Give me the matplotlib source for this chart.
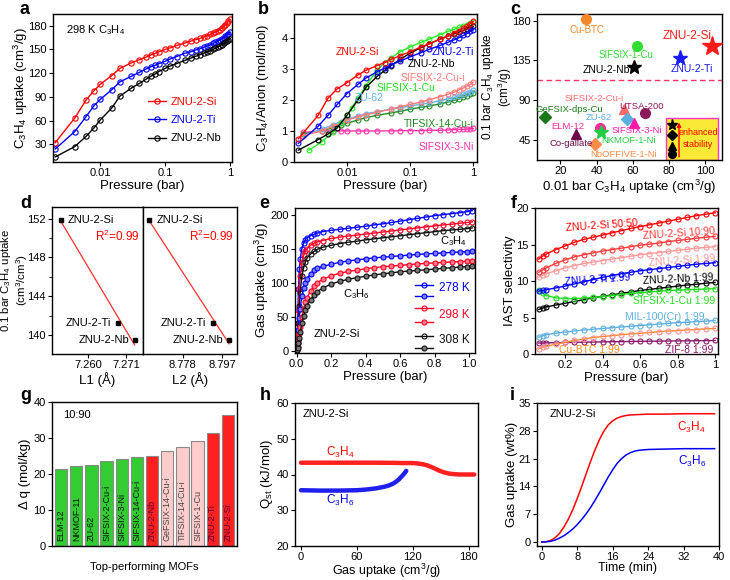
import numpy as np
import matplotlib
matplotlib.use('Agg')
import matplotlib.pyplot as plt
from matplotlib.lines import Line2D
from matplotlib.patches import Rectangle
from matplotlib.ticker import FixedLocator, NullLocator, MultipleLocator

plt.rcParams['font.family'] = ['Liberation Sans', 'DejaVu Sans']
plt.rcParams['mathtext.default'] = 'regular'
plt.rcParams['axes.linewidth'] = 1.0
plt.rcParams['xtick.labelsize'] = 8
plt.rcParams['ytick.labelsize'] = 8
plt.rcParams['axes.labelsize'] = 9.5
plt.rcParams['xtick.major.size'] = 3
plt.rcParams['ytick.major.size'] = 3
plt.rcParams['xtick.major.pad'] = 1.5
plt.rcParams['ytick.major.pad'] = 1.5
plt.rcParams['axes.labelpad'] = 1.0

# ---------------- data: panel a ----------------
a_pressure = [0.002, 0.004, 0.006, 0.008, 0.01, 0.015, 0.02, 0.03, 0.04, 0.05, 0.06, 0.07, 0.08, 0.1,
              0.12, 0.15, 0.2, 0.25, 0.3, 0.35, 0.4, 0.45, 0.5, 0.55, 0.6, 0.65, 0.7, 0.75, 0.8,
              0.85, 0.9, 0.95, 1.0]
a_si = [32, 63, 86, 98, 106, 117, 126, 133, 137, 140, 143, 145, 147, 150, 152, 155, 158, 160.5,
        162.5, 164, 166, 167.5, 169, 170.5, 172, 173.5, 175, 177, 179, 181, 183, 185.5, 188]
a_ti = [24, 46, 65, 79, 87, 99, 109, 116, 121, 125, 128, 130, 132, 135, 138, 141, 145, 147, 149.5,
        151, 153, 154.5, 156, 157.5, 159, 160.5, 162, 163.5, 165, 166.5, 168, 170, 172]
a_nb = [14, 27, 40, 51, 61, 76, 91, 101, 107, 112, 116, 119, 122, 126, 129, 132, 136, 139, 141.5,
        143.5, 145.5, 147, 148.5, 150, 151.5, 153, 154.5, 156, 157.5, 159, 160.5, 162, 163.5]
a_names = ['ZNU-2-Si', 'ZNU-2-Ti', 'ZNU-2-Nb']

# ---------------- data: panel b ----------------
b_pressure = [0.0017, 0.0035, 0.005, 0.007, 0.01, 0.015, 0.02, 0.03, 0.04, 0.05, 0.07, 0.1, 0.15,
              0.2, 0.3, 0.4, 0.5, 0.6, 0.7, 0.8, 0.9, 1.0]
b_si = [0.75, 1.5, 2.05, 2.35, 2.55, 2.8, 2.95, 3.1, 3.2, 3.3, 3.42, 3.55, 3.7, 3.8, 3.95, 4.05,
        4.15, 4.22, 4.3, 4.37, 4.45, 4.52]
b_ti = [0.6, 1.15, 1.5, 1.85, 2.2, 2.5, 2.7, 2.9, 3.02, 3.12, 3.25, 3.38, 3.52, 3.62, 3.75, 3.85,
        3.93, 4.0, 4.07, 4.13, 4.2, 4.25]
b_nb = [0.38, 0.72, 0.9, 1.1, 1.5, 2.0, 2.4, 2.75, 2.95, 3.1, 3.3, 3.5, 3.68, 3.8, 3.95, 4.05,
        4.12, 4.18, 4.23, 4.28, 4.32, 4.36]
b_cu_pressure = [0.0025, 0.004, 0.006, 0.008, 0.01, 0.012, 0.015, 0.02, 0.03, 0.04, 0.05, 0.07,
                 0.1, 0.15, 0.2, 0.3, 0.4, 0.5, 0.6, 0.7, 0.8, 0.9, 1.0]
b_sifsix1cu = [0.38, 0.65, 0.95, 1.25, 1.5, 1.75, 2.05, 2.45, 2.95, 3.2, 3.35, 3.55, 3.7, 3.85,
               3.95, 4.1, 4.2, 4.27, 4.33, 4.38, 4.42, 4.47, 4.5]
b_pressure2 = [0.002, 0.004, 0.006, 0.008, 0.01, 0.015, 0.02, 0.03, 0.05, 0.07, 0.1, 0.15, 0.2,
               0.3, 0.4, 0.5, 0.6, 0.7, 0.8, 0.9, 1.0]
b_sifsix2cui = [0.85, 1.0, 1.15, 1.25, 1.35, 1.45, 1.52, 1.6, 1.7, 1.78, 1.85, 1.93, 2.0, 2.1,
                2.18, 2.25, 2.32, 2.38, 2.44, 2.5, 2.57]
b_zu62 = [0.85, 1.05, 1.2, 1.3, 1.38, 1.48, 1.55, 1.62, 1.7, 1.75, 1.8, 1.86, 1.9, 1.97, 2.03,
          2.08, 2.13, 2.18, 2.22, 2.26, 2.3]
b_tifsix14 = [0.9, 1.0, 1.1, 1.18, 1.25, 1.35, 1.43, 1.5, 1.58, 1.63, 1.7, 1.76, 1.8, 1.87, 1.93,
              1.98, 2.03, 2.08, 2.13, 2.18, 2.23]
b_sifsix3ni = [0.95, 1.0, 1.0, 1.0, 1.0, 1.0, 1.0, 1.0, 1.0, 1.01, 1.01, 1.01, 1.02, 1.02, 1.03,
               1.04, 1.05, 1.05, 1.06, 1.07, 1.08]

# ---------------- data: panel c ----------------
c_names = ['Cu-BTC', 'SIFSIX-1-Cu', 'ZNU-2-Si', 'ZNU-2-Ti', 'ZNU-2-Nb', 'SIFSIX-2-Cu-i',
           'UTSA-200', 'GeFSIX-dps-Cu', 'ZU-62', 'ELM-12', 'SIFSIX-3-Ni', 'NKMOF-1-Ni',
           'Co-gallate', 'NbOFFIVE-1-Ni']
c_x = [34.4, 62.4, 104.1, 86.3, 60.9, 55.4, 66.6, 11.7, 56.9, 41.7, 60.9, 42.5, 28.7, 39.3]
c_y = [181.5, 151.6, 151.6, 138.0, 127.8, 79.8, 74.9, 70.3, 68.8, 58.6, 64.3, 54.1, 51.4, 40.0]
c_markers = ['o', 'o', '*', '*', '*', '^', 'o', 'D', 'D', 'o', '^', '*', '^', 'D']
c_colors = ['#f5872a', '#33dd33', '#ff1a1a', '#1a1aff', '#000000', '#ff6b6b', '#8b1a5a',
            '#1a7a1a', '#5aaee0', '#ff2a9a', '#ff1aaa', '#22cc44', '#6a0a4a', '#ff8c4a']
c_sizes = [7, 7, 15, 11, 10, 7, 7, 6, 6, 7, 7, 10, 7, 6]
c_label_xy = [(34.4, 170), (56.5, 141.5), (90, 163), (92.9, 124.8), (58.7, 124), (38.4, 91.5),
              (65.1, 83.2), (25.1, 79.2), (41.2, 70.3), (24, 60.5), (62.4, 55.2), (57.7, 44.6),
              (26.1, 40.8), (55, 28.7)]
c_label_ha = ['center', 'center', 'center', 'center', 'right', 'center', 'center', 'center',
              'center', 'center', 'center', 'center', 'center', 'center']
c_label_size = [7, 7, 8.5, 7.5, 7.5, 6.8, 6.8, 6.8, 6.8, 6.8, 6.8, 6.8, 6.8, 6.8]
c_threshold = 112.7
c_box_x = [78.4, 107.1]
c_box_top = 69.2
c_key_markers = ['*', 'D', '^', 'o']
c_key_y = [61.6, 50.3, 38.2, 28.7]

# ---------------- data: panel d ----------------
d_names = ['ZNU-2-Si', 'ZNU-2-Ti', 'ZNU-2-Nb']
d_L1 = [7.2522, 7.2686, 7.2734]
d_L2 = [8.7618, 8.7925, 8.8005]
d_uptake = [151.9, 141.2, 139.5]

# ---------------- data: panel e ----------------
e_pressure = [0.002, 0.005, 0.01, 0.015, 0.02, 0.03, 0.04, 0.05, 0.06, 0.08, 0.1, 0.12, 0.15,
              0.2, 0.25, 0.3, 0.35, 0.4, 0.45, 0.5, 0.55, 0.6, 0.65, 0.7, 0.75, 0.8, 0.85, 0.9,
              0.95, 0.99, 1.02]
e_c3h4_278 = [8, 40, 90, 120, 135, 150, 158, 163, 166, 169, 171, 173, 175, 177, 178.5, 180, 181.5,
              183, 185, 186.5, 188.5, 190.5, 192.5, 194.5, 196.5, 198.5, 200, 201.5, 203, 204.5, 206]
e_c3h4_298 = [4, 25, 60, 90, 110, 130, 140, 146, 150, 155, 158, 160, 162, 165, 167, 168.5, 170,
              171.5, 173, 174.5, 176, 177.5, 179, 180.5, 182, 183.5, 185, 186, 187.5, 188.5, 189.5]
e_c3h4_308 = [3, 15, 40, 65, 85, 110, 122, 130, 136, 142, 146, 149, 152, 155, 157.5, 159.5, 161,
              163, 164.5, 166, 167.5, 169, 170.5, 172, 173.5, 175, 176.5, 177.5, 178.5, 179.5, 180.5]
e_c3h6_278 = [2, 12, 30, 48, 62, 80, 92, 100, 106, 113, 118, 121, 124, 127, 130, 132, 133.5, 135,
              136.5, 137.5, 138.5, 139.5, 140.5, 141.5, 142.3, 143, 143.8, 144.5, 145.2, 145.8, 146.3]
e_c3h6_298 = [1, 5, 15, 25, 35, 50, 62, 71, 78, 88, 95, 100, 105, 110, 114, 116.5, 118.5, 120.5,
              122, 123.5, 124.5, 125.5, 126.5, 127.5, 128.3, 129, 129.8, 130.5, 131, 131.5, 132]
e_c3h6_308 = [1, 4, 11, 19, 27, 40, 51, 60, 66, 75, 82, 87, 92, 98, 102, 105, 107.5, 109.5,
              111.5, 113, 114.5, 116, 117, 118, 119, 120, 121, 122, 123, 123.7, 124.4]
e_temps = ['278 K', '298 K', '308 K']

# ---------------- data: panel f ----------------
f_pressure = [0.06, 0.08, 0.1, 0.15, 0.2, 0.25, 0.3, 0.35, 0.4, 0.45, 0.5, 0.55, 0.6, 0.65, 0.7,
              0.75, 0.8, 0.85, 0.9, 0.95, 1.0]
f_si_5050 = [13.0, 13.4, 13.7, 14.3, 14.8, 15.3, 15.7, 16.0, 16.3, 16.6, 16.9, 17.2, 17.45, 17.7,
             17.95, 18.2, 18.45, 18.7, 18.95, 19.15, 19.35]
f_si_1090 = [11.2, 11.5, 11.8, 12.4, 12.9, 13.3, 13.6, 13.85, 14.1, 14.3, 14.5, 14.7, 14.9, 15.05,
             15.2, 15.4, 15.55, 15.7, 15.85, 16.0, 16.1]
f_si_199 = [10.5, 10.8, 11.0, 11.4, 11.8, 12.1, 12.4, 12.6, 12.8, 13.0, 13.2, 13.4, 13.6, 13.75,
            13.9, 14.05, 14.2, 14.35, 14.5, 14.6, 14.7]
f_ti_199 = [8.6, 8.7, 8.8, 9.05, 9.3, 9.6, 9.9, 10.2, 10.5, 10.75, 11.0, 11.2, 11.4, 11.55, 11.7,
            11.85, 12.0, 12.15, 12.3, 12.4, 12.5]
f_nb_199 = [6.1, 6.3, 6.45, 6.7, 6.95, 7.2, 7.45, 7.7, 7.9, 8.1, 8.3, 8.5, 8.7, 8.85, 9.0, 9.15,
            9.3, 9.45, 9.55, 9.7, 9.8]
f_sifsix1cu = [8.8, 8.3, 8.0, 7.7, 7.6, 7.6, 7.65, 7.75, 7.85, 8.0, 8.15, 8.3, 8.4, 8.5, 8.6, 8.7,
               8.75, 8.8, 8.85, 8.9, 8.95]
f_mil100 = [2.3, 2.5, 2.65, 2.85, 3.0, 3.15, 3.3, 3.4, 3.5, 3.6, 3.7, 3.8, 3.9, 4.0, 4.1, 4.2, 4.3,
            4.35, 4.45, 4.5, 4.6]
f_cubtc = [0.7, 0.9, 1.05, 1.35, 1.6, 1.85, 2.05, 2.25, 2.4, 2.5, 2.65, 2.75, 2.85, 2.95, 3.05,
           3.15, 3.2, 3.3, 3.35, 3.45, 3.5]
f_zif8 = [1.5, 1.5, 1.52, 1.55, 1.58, 1.6, 1.62, 1.64, 1.66, 1.68, 1.7, 1.72, 1.73, 1.75, 1.76,
          1.78, 1.79, 1.8, 1.82, 1.83, 1.85]

# ---------------- data: panel g ----------------
g_names = ['ELM-12', 'NKMOF-11', 'ZU-62', 'SIFSIX-2-Cu-i', 'SIFSIX-3-Ni', 'SIFSIX-14-Cu-i',
           'ZNU-2-Nb', 'GeFSIX-14-Cu-i', 'TIFSIX-14-Cu-i', 'SIFSIX-1-Cu', 'ZNU-2-Ti', 'ZNU-2-Si']
g_dq = [21.3, 22.2, 22.5, 23.5, 24.3, 24.7, 25.1, 26.5, 27.5, 29.2, 31.3, 36.5]
g_group = ['g', 'g', 'g', 'g', 'g', 'g', 'r', 'p', 'p', 'p', 'r', 'r']

# ---------------- data: panel h ----------------
h_c3h4_x = [0, 20, 40, 60, 80, 100, 110, 120, 125, 130, 135, 140, 145, 150, 155, 160, 165, 170,
            175, 180, 186]
h_c3h4_q = [43.3, 43.3, 43.3, 43.3, 43.3, 43.25, 43.2, 43.2, 43.1, 42.9, 42.6, 42.1, 41.5, 40.9,
            40.5, 40.2, 40.1, 40.0, 40.0, 40.0, 40.0]
h_c3h6_x = [0, 20, 40, 60, 70, 80, 90, 95, 100, 105, 110, 113]
h_c3h6_q = [35.6, 35.5, 35.5, 35.6, 35.8, 36.1, 36.6, 37.0, 37.6, 38.6, 40.0, 41.0]

# ---------------- data: panel i ----------------
i_time = [0, 1, 2, 3, 4, 5, 6, 7, 8, 9, 10, 11, 12, 13, 14, 15, 16, 17, 18, 19, 20, 21, 22, 24,
          28, 32, 36, 39]
i_c3h4 = [0, 0.1, 0.4, 1.1, 2.2, 3.8, 5.8, 8.2, 11.0, 14.0, 17.2, 20.3, 23.2, 25.8, 27.9, 29.5,
          30.5, 31.2, 31.6, 31.85, 32.0, 32.05, 32.1, 32.2, 32.2, 32.3, 32.3, 32.3]
i_c3h6 = [0, 0.05, 0.2, 0.5, 1.0, 1.6, 2.4, 3.3, 4.4, 5.7, 7.1, 8.7, 10.5, 12.4, 14.4, 16.4,
          18.2, 19.8, 21.0, 21.9, 22.5, 22.9, 23.1, 23.3, 23.4, 23.5, 23.5, 23.5]

# ======================================================================
W, H = 730, 580
fig = plt.figure(figsize=(W / 100, H / 100), dpi=100)


def R(l, t, r, b):
    return [l / W, 1 - b / H, (r - l) / W, (b - t) / H]


def letter(x, y, s):
    fig.text(x / W, 1 - y / H, s, fontsize=13, fontweight='bold', ha='left', va='center')


def ylabel_at(ax, xpix, l, r):
    # right edge of the (rotated) y label at figure pixel column xpix
    ax.yaxis.set_label_coords((xpix - l) / (r - l), 0.5)


def xlabel_at(ax, ypix, t, b):
    # top edge of the x label at figure pixel row ypix
    ax.xaxis.set_label_coords(0.5, -(ypix - b) / (b - t))


def ylabel_block(s, xc, yc, fs):
    # two-line y label centred at figure pixel (xc, yc)
    fig.text(xc / W, 1 - yc / H, s, rotation=90, ha='center', va='center',
             multialignment='center', fontsize=fs, linespacing=1.05)


C3H4 = 'C$_3$H$_4$'
C3H6 = 'C$_3$H$_6$'

# ---------------- panel a ----------------
ax = fig.add_axes(R(53, 14, 232, 162))
for yv, col, nm in zip([a_si, a_ti, a_nb], ['#ff0000', '#0000ff', '#000000'], a_names):
    ax.plot(a_pressure, yv, '-o', color=col, lw=1.0, ms=3.8, mfc='none', mew=0.8, label=nm)
ax.set_xscale('log')
ax.set_xlim(0.00185, 1.08)
ax.set_ylim(7.6, 194.8)
ax.xaxis.set_major_locator(FixedLocator([0.01, 0.1, 1]))
ax.set_xticklabels(['0.01', '0.1', '1'])
ax.xaxis.set_minor_locator(NullLocator())
ax.set_yticks([30, 60, 90, 120, 150, 180])
ax.set_xlabel('Pressure (bar)')
ax.set_ylabel(C3H4 + ' uptake (cm$^3$/g)')
ylabel_at(ax, 30, 53, 232)
ax.text(0.07, 0.87, '298 K ' + C3H4, transform=ax.transAxes, fontsize=8)
ax.legend(loc='lower right', frameon=False, fontsize=8, labelcolor='linecolor',
          handlelength=1.6, handletextpad=0.4, borderaxespad=0.6, labelspacing=0.75,
          bbox_to_anchor=(1.0, 0.05))
letter(20, 10, 'a')

# ---------------- panel b ----------------
ax = fig.add_axes(R(294, 14, 477, 162))
b_series = [
    (b_pressure2, b_sifsix3ni, '#ff33aa'),
    (b_pressure2, b_tifsix14, '#1f8a1f'),
    (b_pressure2, b_zu62, '#66b3e6'),
    (b_pressure2, b_sifsix2cui, '#ff7a7a'),
    (b_cu_pressure, b_sifsix1cu, '#22ee22'),
    (b_pressure, b_nb, '#000000'),
    (b_pressure, b_ti, '#0000ff'),
    (b_pressure, b_si, '#ff0000'),
]
for px, yv, col in b_series:
    ax.plot(px, yv, '-o', color=col, lw=1.0, ms=3.5, mfc='none', mew=0.8)
ax.set_xscale('log')
ax.set_xlim(0.00145, 1.15)
ax.set_ylim(0, 4.76)
ax.xaxis.set_major_locator(FixedLocator([0.01, 0.1, 1]))
ax.set_xticklabels(['0.01', '0.1', '1'])
ax.xaxis.set_minor_locator(NullLocator())
ax.set_yticks([0, 1, 2, 3, 4])
ax.set_xlabel('Pressure (bar)')
ax.set_ylabel(C3H4 + '/Anion (mol/mol)')
ylabel_at(ax, 271, 294, 477)
b_labels = [('ZNU-2-Si', 0.23, 0.74, 'left', '#ff0000'),
            ('ZNU-2-Ti', 0.985, 0.74, 'right', '#0000ff'),
            ('ZNU-2-Nb', 0.62, 0.66, 'left', '#000000'),
            ('SIFSIX-2-Cu-i', 0.585, 0.57, 'left', '#ff7a7a'),
            ('SIFSIX-1-Cu', 0.45, 0.50, 'left', '#22dd22'),
            ('ZU-62', 0.33, 0.43, 'left', '#66b3e6'),
            ('TIFSIX-14-Cu-i', 0.60, 0.255, 'left', '#1f8a1f'),
            ('SIFSIX-3-Ni', 0.985, 0.10, 'right', '#ff33aa')]
for s, x, y, ha, col in b_labels:
    ax.text(x, y, s, transform=ax.transAxes, ha=ha, va='center', color=col, fontsize=7.5)
letter(258, 10, 'b')

# ---------------- panel c ----------------
ax = fig.add_axes(R(537, 14, 722, 160))
ax.set_xlim(7, 109.5)
ax.set_ylim(22, 187.6)
ax.add_patch(Rectangle((c_box_x[0], 22), c_box_x[1] - c_box_x[0], c_box_top - 22,
                       facecolor='#fbe938', edgecolor='#ff33cc', lw=1.0, zorder=1))
ax.annotate('', xy=(85.7, c_box_top - 1.5), xytext=(85.7, 22.5),
            arrowprops=dict(arrowstyle='-|>', color='#ff0000', lw=1.0, mutation_scale=6), zorder=2)
ax.text(96.4, 46.5, 'enhanced\nstability', color='#ff0000', fontsize=6.5, ha='center',
        va='center', linespacing=1.4, zorder=3)
for mk, yy in zip(c_key_markers, c_key_y):
    ax.plot([81.7], [yy], marker=mk, color='#000000', ms=(8 if mk == '*' else 5.5), zorder=3)
ax.axhline(c_threshold, color='#ff3366', lw=1.0, ls=(0, (4, 2.5)), zorder=1)
for nm, x, y, mk, col, ms, lxy, ha, fs in zip(c_names, c_x, c_y, c_markers, c_colors, c_sizes,
                                              c_label_xy, c_label_ha, c_label_size):
    ax.plot([x], [y], marker=mk, color=col, ms=ms, zorder=4, ls='none')
    ax.text(lxy[0], lxy[1], nm, color=col, fontsize=fs, ha=ha, va='center', zorder=5)
ax.set_xticks([20, 40, 60, 80, 100])
ax.set_yticks([45, 90, 135, 180])
ax.set_xlabel('0.01 bar ' + C3H4 + ' uptake (cm$^3$/g)')
ylabel_block('0.1 bar ' + C3H4 + ' uptake\n(cm$^3$/g)', 497, 87, 8.5)
letter(510, 10, 'c')

# ---------------- panel d ----------------
axl = fig.add_axes(R(52, 207, 143, 354))
axr = fig.add_axes(R(143, 207, 237, 354))
for axd, L, lim, ticks in [(axl, d_L1, (7.2497, 7.2758), [7.260, 7.271]),
                           (axr, d_L2, (8.7588, 8.8043), [8.778, 8.797])]:
    axd.plot(L, d_uptake, 's', color='#000000', ms=2.6, zorder=3)
    k, b0 = np.polyfit(L, d_uptake, 1)
    xs = np.array([L[0], L[-1]])
    axd.plot(xs, k * xs + b0, '-', color='#ff3030', lw=0.9, zorder=2)
    axd.set_xlim(*lim)
    axd.set_ylim(138.05, 153.2)
    axd.set_xticks(ticks)
    axd.set_xticklabels(['%.3f' % t for t in ticks])
    axd.yaxis.set_minor_locator(MultipleLocator(2))
    axd.annotate(d_names[0], (L[0], d_uptake[0]), xytext=(5, 0), textcoords='offset points',
                 ha='left', va='center', fontsize=8)
    axd.annotate(d_names[1], (L[1], d_uptake[1]), xytext=(-5, 0), textcoords='offset points',
                 ha='right', va='center', fontsize=8)
    axd.annotate(d_names[2], (L[2], d_uptake[2]), xytext=(-4, 0), textcoords='offset points',
                 ha='right', va='center', fontsize=8)
    axd.text(0.96, 0.80, 'R$^2$=0.99', color='#ff0000', transform=axd.transAxes, ha='right',
             va='center', fontsize=8.5)
axl.set_yticks([140, 144, 148, 152])
axr.tick_params(axis='y', which='both', left=False, labelleft=False)
axl.set_xlabel('L1 (Å)')
axr.set_xlabel('L2 (Å)')
ylabel_block('0.1 bar ' + C3H4 + ' uptake\n(cm$^3$/cm$^3$)', 14.5, 280, 8.2)
letter(20, 203, 'd')

# ---------------- panel e ----------------
ax = fig.add_axes(R(295, 208, 475, 353))
e_cols = ['#0000ff', '#ff0022', '#111111']
e_light = ['#7a7aff', '#ff7a8a', '#777777']
for yv, col in zip([e_c3h4_278, e_c3h4_298, e_c3h4_308], e_cols):
    ax.plot(e_pressure, yv, '-o', color=col, lw=1.0, ms=3.6, mfc='none', mew=0.8)
for yv, col, lc in zip([e_c3h6_278, e_c3h6_298, e_c3h6_308], e_cols, e_light):
    ax.plot(e_pressure, yv, '-o', color=col, lw=1.0, ms=3.6, mfc=lc, mew=0.8)
ax.set_xlim(-0.01, 1.035)
ax.set_ylim(-3.4, 209.8)
ax.set_xticks([0.0, 0.2, 0.4, 0.6, 0.8, 1.0])
ax.set_yticks([0, 50, 100, 150, 200])
ax.set_xlabel('Pressure (bar)')
ax.set_ylabel('Gas uptake (cm$^3$/g)')
ylabel_at(ax, 271, 295, 475)
ax.text(0.88, 161, C3H4, transform=ax.get_yaxis_transform(), ha='center', va='center', fontsize=8)
ax.text(0.34, 83, C3H6, transform=ax.get_yaxis_transform(), ha='center', va='center', fontsize=8)
ax.text(0.23, 24, 'ZNU-2-Si', transform=ax.get_yaxis_transform(), ha='center', va='center',
        fontsize=8)
rows = [(0.471, 0.395, 0.448), (0.31, 0.211, 0.264), (0.115, 0.034, 0.092)]
for (y1, y2, yt), col, lc, tl in zip(rows, e_cols, e_light, e_temps):
    ax.add_line(Line2D([0.667, 0.769], [y1, y1], transform=ax.transAxes, color=col, lw=1.0))
    ax.add_line(Line2D([0.718], [y1], transform=ax.transAxes, color=col, marker='o', ms=3.6,
                       mfc='none', mew=0.8))
    ax.add_line(Line2D([0.667, 0.769], [y2, y2], transform=ax.transAxes, color=col, lw=1.0))
    ax.add_line(Line2D([0.718], [y2], transform=ax.transAxes, color=col, marker='o', ms=3.6,
                       mfc=lc, mew=0.8))
    ax.text(0.80, yt, tl, transform=ax.transAxes, color=col, fontsize=8.5, va='center')
letter(259, 203, 'e')

# ---------------- panel f ----------------
ax = fig.add_axes(R(535, 208, 718, 354))
f_series = [
    (f_zif8, '#8b1a6b', '#8b1a6b'),
    (f_cubtc, '#ff8c1a', '#ff8f9f'),
    (f_mil100, '#5fb0e0', '#5fb0e0'),
    (f_nb_199, '#000000', '#000000'),
    (f_sifsix1cu, '#22dd22', '#22dd22'),
    (f_ti_199, '#0000ff', '#0000ff'),
    (f_si_199, '#ff9999', '#ff9999'),
    (f_si_1090, '#ff3b3b', '#ff3b3b'),
    (f_si_5050, '#ff0000', '#ff0000'),
]
for yv, col, mc in f_series:
    ax.plot(f_pressure, yv, '-', color=col, lw=1.0)
    ax.plot(f_pressure, yv, 'o', color=mc, ms=3.6, mfc='none', mew=0.8)
ax.set_xlim(0.04, 1.015)
ax.set_ylim(0, 20)
ax.set_xticks([0.2, 0.4, 0.6, 0.8, 1.0])
ax.set_xticklabels(['0.2', '0.4', '0.6', '0.8', '1'])
ax.set_yticks([0, 5, 10, 15, 20])
ax.set_xlabel('Pressure (bar)')
ax.set_ylabel('IAST selectivity')
ylabel_at(ax, 516, 535, 718)
f_labels = [('ZNU-2-Si 50:50', 0.17, 0.865, 'left', '#ff0000', 4),
            ('ZNU-2-Si 10:90', 0.985, 0.845, 'right', '#ff3b3b', 4),
            ('ZNU-2-Si 1:99', 0.985, 0.655, 'right', '#ff9999', 4),
            ('ZNU-2-Ti 1:99', 0.165, 0.49, 'left', '#0000ff', 4),
            ('ZNU-2-Nb 1:99', 0.975, 0.525, 'right', '#000000', 3),
            ('SIFSIX-1-Cu 1:99', 0.985, 0.365, 'right', '#22dd22', 0),
            ('MIL-100(Cr) 1:99', 0.925, 0.25, 'right', '#5fb0e0', 0),
            ('Cu-BTC 1:99', 0.13, 0.03, 'left', '#ff8c1a', 0),
            ('ZIF-8 1:99', 0.975, 0.03, 'right', '#8b1a6b', 0)]
for s, x, y, ha, col, rot in f_labels:
    ax.text(x, y, s, transform=ax.transAxes, ha=ha, va='center', color=col, fontsize=7.5,
            rotation=rot, rotation_mode='anchor')
letter(511, 203, 'f')

# ---------------- panel g ----------------
ax = fig.add_axes(R(52, 402, 237, 546))
g_face = {'g': '#33cc33', 'r': '#ff2020', 'p': '#ffcccc'}
g_txt = {'g': '#111111', 'r': '#660033', 'p': '#444444'}
xpos = np.arange(len(g_names))
ax.bar(xpos, g_dq, width=0.82, color=[g_face[g] for g in g_group], edgecolor='#8a8a8a', lw=0.8)
for xp, nm, g in zip(xpos, g_names, g_group):
    ax.text(xp, 1.5, nm, rotation=90, ha='center', va='bottom', fontsize=6.5, color=g_txt[g])
ax.set_xlim(-0.6, len(g_names) - 0.4)
ax.set_ylim(0, 40)
ax.set_yticks([0, 10, 20, 30, 40])
ax.set_xticks([])
ax.set_xlabel('Top-performing MOFs', fontsize=8)
xlabel_at(ax, 562, 402, 546)
ax.set_ylabel('Δ q (mol/kg)')
ylabel_at(ax, 31, 52, 237)
ax.text(0.06, 0.91, '10:90', transform=ax.transAxes, fontsize=8, va='center')
letter(20, 395, 'g')

# ---------------- panel h ----------------
ax = fig.add_axes(R(295, 403, 478, 546))
ax.plot(h_c3h4_x, h_c3h4_q, '-', color='#ff2020', lw=3.2, solid_capstyle='round')
ax.plot(h_c3h6_x, h_c3h6_q, '-', color='#2020ee', lw=3.2, solid_capstyle='round')
ax.set_xlim(-6.4, 190)
ax.set_ylim(20, 60)
ax.set_xticks([0, 60, 120, 180])
ax.set_yticks([20, 30, 40, 50, 60])
ax.set_xlabel('Gas uptake (cm$^3$/g)', fontsize=9)
ax.set_ylabel('Q$_{st}$ (kJ/mol)')
ylabel_at(ax, 275, 295, 478)
xlabel_at(ax, 561.5, 403, 546)
ax.text(0.04, 0.92, 'ZNU-2-Si', transform=ax.transAxes, fontsize=8, va='center')
ax.text(42, 46.3, C3H4, color='#ff0000', fontsize=8.5, ha='center', va='center')
ax.text(42, 32.8, C3H6, color='#0000ee', fontsize=8.5, ha='center', va='center')
letter(260, 396, 'h')

# ---------------- panel i ----------------
ax = fig.add_axes(R(537, 403, 719, 546))
ax.plot(i_time, i_c3h4, '-', color='#ff0000', lw=1.1)
ax.plot(i_time, i_c3h6, '-', color='#0000ff', lw=1.1)
ax.set_xlim(-1.1, 40)
ax.set_ylim(-1, 35)
ax.set_xticks([0, 8, 16, 24, 32, 40])
ax.set_yticks([0, 7, 14, 21, 28, 35])
ax.set_xlabel('Time (min)', fontsize=9)
ax.set_ylabel('Gas uptake (wt%)')
ylabel_at(ax, 518, 537, 719)
xlabel_at(ax, 561.5, 403, 546)
ax.text(0.07, 0.92, 'ZNU-2-Si', transform=ax.transAxes, fontsize=8, va='center')
ax.text(0.85, 28.8, C3H4, transform=ax.get_yaxis_transform(), color='#ff0000', fontsize=8.5,
        ha='center', va='center')
ax.text(0.85, 20.4, C3H6, transform=ax.get_yaxis_transform(), color='#0000ff', fontsize=8.5,
        ha='center', va='center')
letter(510, 396, 'i')

fig.savefig('out.png', dpi=100)
